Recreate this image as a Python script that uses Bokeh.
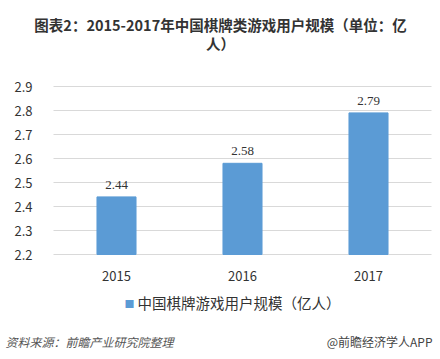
from bokeh.plotting import figure
from bokeh.models import (ColumnDataSource, Label, FixedTicker, Range1d, LinearAxis, Grid)
from bokeh.embed import file_html
from bokeh.resources import INLINE

years = ["2015", "2016", "2017"]
users = [2.44, 2.58, 2.79]
labels = ["2.44", "2.58", "2.79"]
y_ticks = [2.2, 2.3, 2.4, 2.5, 2.6, 2.7, 2.8, 2.9]
title_lines = ["图表2：2015-2017年中国棋牌类游戏用户规模（单位：亿", "人）"]
legend_text = "中国棋牌游戏用户规模（亿人）"
source_text = "资料来源：前瞻产业研究院整理"
brand_text = "@前瞻经济学人APP"

FONT = "Noto Sans CJK SC"
W, H = 440, 359
# plot area (page pixels): left 53, right 431, y=2.2 at 254, y=2.9 at 86
PL, PR, PB, PT = 53, 431, 254, 86
n = len(years)
xpx = (PR - PL) / n                      # pixels per category
ypx = (PB - PT) / (y_ticks[-1] - y_ticks[0])  # pixels per unit

xs = [i + 0.5 for i in range(n)]
src = ColumnDataSource(dict(x=xs, top=users, lab=labels))

p = figure(width=W, height=H,
           x_range=Range1d(-PL / xpx, (W - PL) / xpx),
           y_range=Range1d(y_ticks[0] - (H - PB) / ypx, y_ticks[-1] + PT / ypx),
           x_axis_type=None, y_axis_type=None,
           output_backend="svg", toolbar_location=None, min_border=0)
p.outline_line_color = None
p.background_fill_color = "white"
p.border_fill_color = "white"

yt = FixedTicker(ticks=y_ticks)
p.add_layout(Grid(dimension=1, ticker=yt, grid_line_color="#d9d9d9", cross_bounds=(0, n)))

p.vbar(x="x", top="top", bottom=y_ticks[0], width=0.31, source=src, color="#5b9bd5")
p.text(x="x", y="top", text="lab", source=src, text_align="center", text_baseline="bottom",
       y_offset=-8, text_font_size="13px", text_color="#333333", text_font=FONT)

yaxis = LinearAxis(ticker=yt, fixed_location=0, axis_line_color=None,
                   major_tick_line_color=None, minor_tick_line_color=None,
                   major_label_text_font_size="13px", major_label_text_color="#333333",
                   major_label_text_font=FONT, major_label_standoff=15)
p.add_layout(yaxis, "left")

xaxis = LinearAxis(ticker=FixedTicker(ticks=xs), fixed_location=y_ticks[0],
                   major_label_overrides={x: y for x, y in zip(xs, years)},
                   axis_line_color=None, major_tick_line_color=None, minor_tick_line_color=None,
                   major_label_text_font_size="13px", major_label_text_color="#333333",
                   major_label_text_font=FONT, major_label_standoff=10)
p.add_layout(xaxis, "below")


def lab(text, px, py, size, color="#333333", style="normal", align="left"):
    p.add_layout(Label(x=px, y=H - py, x_units="screen", y_units="screen", text=text,
                       text_font=FONT, text_font_size=size, text_color=color,
                       text_font_style=style, text_align=align, text_baseline="middle"))


lab(title_lines[0], 220, 24, "14.5px", style="bold", align="center")
lab(title_lines[1], 220, 43, "14.5px", style="bold", align="center")
lab("■", 124, 303, "10px", color="#5b9bd5")
lab(legend_text, 137, 302, "14.5px")
lab(source_text, 5, 341, "12px", color="#555555", style="italic")
lab(brand_text, 432, 341, "12px", color="#444444", align="right")

open("out.html", "w").write(file_html(p, INLINE))
